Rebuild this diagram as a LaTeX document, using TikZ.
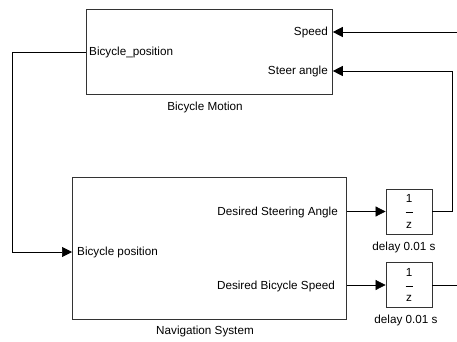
\documentclass[tikz,border=0pt]{standalone}
\usepackage{fontspec}
\setmainfont{Liberation Sans}
\usetikzlibrary{arrows.meta,calc,positioning}

\begin{document}
\begin{tikzpicture}[
  x=1pt,y=-1pt,
  >={Triangle[length=10pt,width=10pt]},
  subsys/.style={draw=black!80,line width=0.8pt,anchor=north west,inner sep=0pt},
  unitdelay/.style={draw=black!80,line width=0.8pt,minimum width=46pt,
    minimum height=45pt,inner sep=0pt,align=center,
    font=\fontsize{11.7}{12.8}\selectfont},
  port/.style={font=\fontsize{11.7}{13}\selectfont,inner sep=0pt},
  sig/.style={line width=0.7pt}
]
  \useasboundingbox (0,0) rectangle (457,342);

  % Bicycle Motion subsystem
  \node[subsys,minimum width=246pt,minimum height=85pt] (motion) at (86,9) {};
  \node[port] (motionlbl) at (205,107) {Bicycle Motion};
  \node[port,anchor=east] (speedlbl) at (328,32) {Speed};
  \node[port,anchor=east] (steerlbl) at (328,71) {Steer angle};
  \node[port,anchor=west] (poslbl) at (89,52) {Bicycle\_position};
  \coordinate (speedin) at (motion.east |- speedlbl);
  \coordinate (steerin) at (motion.east |- steerlbl);
  \coordinate (posout) at (motion.west |- poslbl);

  % Navigation System subsystem
  \node[subsys,minimum width=274pt,minimum height=142pt] (nav) at (72,177) {};
  \node[port] (navlbl) at (205,331) {Navigation System};
  \node[port,anchor=east] (dsteerlbl) at (338,212) {Desired Steering Angle};
  \node[port,anchor=east] (dspeedlbl) at (335,286) {Desired Bicycle Speed};
  \node[port,anchor=west] (navposlbl) at (77,252) {Bicycle position};
  \coordinate (posin) at (nav.west |- navposlbl);

  % Unit delays
  \node[unitdelay] (delay1) at (409,211.5)
    {1\\\rule[3pt]{7pt}{0.5pt}\\z};
  \node[port,below=7pt of delay1,xshift=-5pt] (delay1lbl) {delay 0.01 s};
  \node[unitdelay] (delay2) at (409,285)
    {1\\\rule[3pt]{7pt}{0.5pt}\\z};
  \node[port,below=7pt of delay2,xshift=-3pt] (delay2lbl) {delay 0.01 s};

  % Free ends at the right border
  \coordinate (speedsrc) at (457,32);
  \coordinate (speedsink) at (457,285);

  % Signals
  \draw[sig,->] (speedsrc) -- (speedin);
  \draw[sig,->] (delay1.east) -- ($(delay1.east)+(20,0)$) |- (steerin);
  \draw[sig] (delay2.east) -- (speedsink);
  \draw[sig,->] (posout) -- (12,52) |- (posin);
  \draw[sig,->] (nav.east |- delay1.west) -- (delay1.west);
  \draw[sig,->] (nav.east |- delay2.west) -- (delay2.west);
\end{tikzpicture}
\end{document}
